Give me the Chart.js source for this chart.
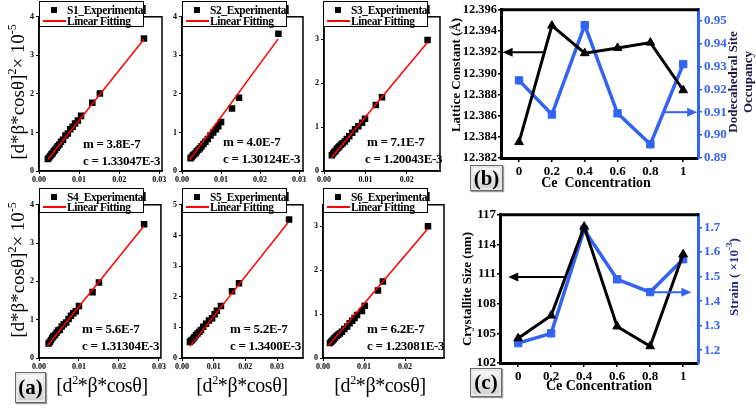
<!DOCTYPE html>
<html><head><meta charset="utf-8">
<script src="https://cdn.jsdelivr.net/npm/chart.js@4/dist/chart.umd.min.js"></script>
<style>
html,body{margin:0;padding:0;background:#fff;}
body{width:756px;height:408px;position:relative;overflow:hidden;font-family:"Liberation Serif",serif;}
canvas{position:absolute;}
.t{position:absolute;white-space:nowrap;color:#000;}
.rot{transform:translate(-50%,-50%) rotate(-90deg);}
.leg{position:absolute;background:#fff;border:1.5px solid #000;box-sizing:border-box;font-weight:bold;font-size:11.5px;letter-spacing:-0.4px;z-index:5;}
.leg .r{position:absolute;left:27px;line-height:12px;}
.leg .sq{position:absolute;width:6px;height:6px;background:#000;left:11px;}
.leg .ln{position:absolute;height:1.5px;background:#f00;left:3px;width:23px;}
.ann{position:absolute;font-weight:bold;font-size:13px;letter-spacing:-0.3px;white-space:nowrap;z-index:4;}
.lab{position:absolute;box-sizing:border-box;border:1px solid #6a6a6a;background:linear-gradient(#fbfbfb,#cfcfcf);box-shadow:inset 0 0 0 2px #e6e6e6,1px 1px 1px #999;font-weight:bold;font-size:21px;text-align:center;z-index:6;}
</style></head><body>
<canvas id="s1"></canvas><canvas id="s2"></canvas><canvas id="s3"></canvas>
<canvas id="s4"></canvas><canvas id="s5"></canvas><canvas id="s6"></canvas>
<canvas id="cb"></canvas><canvas id="cc"></canvas>

<div class="leg" style="left:39px;top:1px;width:105px;height:26px"><span class="sq" style="top:5px"></span><span class="r" style="top:2px">S1_Experimental</span><span class="ln" style="top:18px"></span><span class="r" style="top:13px">Linear Fitting</span></div>
<div class="leg" style="left:182px;top:1px;width:105px;height:26px"><span class="sq" style="top:5px"></span><span class="r" style="top:2px">S2_Experimental</span><span class="ln" style="top:18px"></span><span class="r" style="top:13px">Linear Fitting</span></div>
<div class="leg" style="left:323px;top:1px;width:105px;height:26px"><span class="sq" style="top:5px"></span><span class="r" style="top:2px">S3_Experimental</span><span class="ln" style="top:18px"></span><span class="r" style="top:13px">Linear Fitting</span></div>
<div class="leg" style="left:39px;top:188px;width:105px;height:25px"><span class="sq" style="top:5px"></span><span class="r" style="top:2px">S4_Experimental</span><span class="ln" style="top:17px"></span><span class="r" style="top:12px">Linear Fitting</span></div>
<div class="leg" style="left:182px;top:188px;width:105px;height:25px"><span class="sq" style="top:5px"></span><span class="r" style="top:2px">S5_Experimental</span><span class="ln" style="top:17px"></span><span class="r" style="top:12px">Linear Fitting</span></div>
<div class="leg" style="left:323px;top:188px;width:105px;height:25px"><span class="sq" style="top:5px"></span><span class="r" style="top:2px">S6_Experimental</span><span class="ln" style="top:17px"></span><span class="r" style="top:12px">Linear Fitting</span></div>

<div class="ann" style="left:83px;top:136px">m = 3.8E-7</div>
<div class="ann" style="left:83px;top:153px">c = 1.33047E-3</div>
<div class="ann" style="left:223px;top:134px">m = 4.0E-7</div>
<div class="ann" style="left:223px;top:151px">c = 1.30124E-3</div>
<div class="ann" style="left:367px;top:134px">m = 7.1E-7</div>
<div class="ann" style="left:365px;top:151px">c = 1.20043E-3</div>
<div class="ann" style="left:82px;top:321px">m = 5.6E-7</div>
<div class="ann" style="left:82px;top:338px">c = 1.31304E-3</div>
<div class="ann" style="left:230px;top:321px">m = 5.2E-7</div>
<div class="ann" style="left:230px;top:338px">c = 1.3400E-3</div>
<div class="ann" style="left:367px;top:321px">m = 6.2E-7</div>
<div class="ann" style="left:367px;top:338px">c = 1.23081E-3</div>

<div class="t rot" style="left:17px;top:92px;font-size:19px">[d*β*cosθ]<sup style="font-size:12px">2</sup>× 10<sup style="font-size:12px">-5</sup></div>
<div class="t rot" style="left:17px;top:270px;font-size:19px">[d*β*cosθ]<sup style="font-size:12px">2</sup>× 10<sup style="font-size:12px">-5</sup></div>
<div class="t" style="left:102px;top:385px;transform:translate(-50%,-50%);font-size:20px;letter-spacing:-0.4px">[d<sup style="font-size:12px">2</sup>*β*cosθ]</div>
<div class="t" style="left:242px;top:385px;transform:translate(-50%,-50%);font-size:20px;letter-spacing:-0.4px">[d<sup style="font-size:12px">2</sup>*β*cosθ]</div>
<div class="t" style="left:380px;top:385px;transform:translate(-50%,-50%);font-size:20px;letter-spacing:-0.4px">[d<sup style="font-size:12px">2</sup>*β*cosθ]</div>

<div class="t rot" style="left:456px;top:75px;font-size:13px;font-weight:bold">Lattice Constant (Å)</div>
<div class="t rot" style="left:740px;top:82px;font-size:13px;font-weight:bold;line-height:15px;text-align:center;color:#1b1b45">Dodecahedral Site<br>Occupancy</div>
<div class="t" style="left:596px;top:183px;transform:translate(-50%,-50%);font-size:14px;font-weight:bold">Ce&nbsp; Concentration</div>

<div class="t rot" style="left:467px;top:289px;font-size:13px;font-weight:bold">Crystallite Size (nm)</div>
<div class="t rot" style="left:733px;top:277px;font-size:13px;font-weight:bold;color:#1f2a80">Strain ( ×10<sup style="font-size:9px">-3</sup>)</div>
<div class="t" style="left:599px;top:386px;transform:translate(-50%,-50%);font-size:14px;font-weight:bold">Ce Concentration</div>

<div class="lab" style="left:15px;top:372px;width:31px;height:31px;line-height:29px">(a)</div>
<div class="lab" style="left:470px;top:165px;width:33px;height:26px;line-height:24px">(b)</div>
<div class="lab" style="left:470px;top:368px;width:32px;height:29px;line-height:27px">(c)</div>

<script>
// ---------- Panel (a): Williamson-Hall data ----------
const S1_X = [0.0022,0.0025,0.0028,0.0031,0.0034,0.0037,0.0040,0.0044,0.0047,0.0051,0.0055,0.0060,0.0066,0.0072,0.0078,0.0084,0.0090,0.0097,0.0105,0.0133,0.0152,0.0262];
const S1_Y = [0.31,0.35,0.39,0.43,0.46,0.51,0.55,0.60,0.64,0.69,0.76,0.81,0.92,0.97,1.08,1.15,1.23,1.31,1.43,1.77,2.01,3.44];
const S1_FIT_X = [0.0022,0.0262];
const S1_FIT_Y = [0.30,3.42];

const S2_X = [0.0022,0.0025,0.0028,0.0031,0.0035,0.0038,0.0042,0.0046,0.0050,0.0055,0.0060,0.0066,0.0073,0.0080,0.0087,0.0093,0.0100,0.0128,0.0146,0.0247];
const S2_Y = [0.33,0.36,0.40,0.43,0.47,0.51,0.55,0.59,0.64,0.70,0.76,0.83,0.92,1.00,1.08,1.16,1.27,1.62,1.90,3.56];
const S2_FIT_X = [0.0020,0.0246];
const S2_FIT_Y = [0.30,3.42];

const S3_X = [0.0019,0.0022,0.0025,0.0028,0.0031,0.0034,0.0037,0.0041,0.0045,0.0050,0.0055,0.0061,0.0068,0.0075,0.0083,0.0092,0.0099,0.0125,0.0140,0.0250];
const S3_Y = [0.36,0.40,0.43,0.46,0.50,0.53,0.56,0.60,0.63,0.67,0.73,0.79,0.87,0.95,1.02,1.10,1.19,1.50,1.68,2.98];
const S3_FIT_X = [0.0018,0.0250];
const S3_FIT_Y = [0.30,2.93];

const S4_X = [0.0024,0.0027,0.0030,0.0033,0.0036,0.0040,0.0044,0.0048,0.0052,0.0057,0.0062,0.0068,0.0074,0.0080,0.0086,0.0092,0.0100,0.0134,0.0150,0.0263];
const S4_Y = [0.38,0.42,0.47,0.52,0.57,0.60,0.66,0.72,0.74,0.82,0.88,0.93,1.02,1.10,1.17,1.22,1.36,1.72,1.97,3.49];
const S4_FIT_X = [0.0021,0.0262];
const S4_FIT_Y = [0.32,3.44];

const S5_X = [0.0025,0.0028,0.0031,0.0035,0.0039,0.0044,0.0049,0.0055,0.0060,0.0067,0.0076,0.0085,0.0095,0.0103,0.0110,0.0123,0.0158,0.0180,0.0338];
const S5_Y = [0.52,0.56,0.58,0.63,0.68,0.74,0.80,0.86,0.91,1.02,1.12,1.22,1.30,1.43,1.54,1.70,2.18,2.44,4.52];
const S5_FIT_X = [0.0025,0.0335];
const S5_FIT_Y = [0.38,4.42];

const S6_X = [0.0017,0.0020,0.0023,0.0026,0.0029,0.0033,0.0037,0.0041,0.0046,0.0052,0.0059,0.0065,0.0071,0.0077,0.0083,0.0095,0.0102,0.0134,0.0146,0.0256];
const S6_Y = [0.34,0.37,0.40,0.43,0.46,0.50,0.53,0.56,0.60,0.66,0.72,0.79,0.85,0.91,0.98,1.07,1.19,1.54,1.74,3.00];
const S6_FIT_X = [0.0013,0.0256];
const S6_FIT_Y = [0.28,2.95];

const XTICKS_4 = [0,0.01,0.02,0.03];
const XTICKS_3 = [0,0.01,0.02];
const YTICKS_0_4 = [0,1,2,3,4];
const YTICKS_0_3 = [0,1,2,3];
const YTICKS_0_5 = [0,1,2,3,4,5];

// ---------- Panels (b), (c) ----------
const CE = [0,0.2,0.4,0.6,0.8,1];
const LATTICE = [12.3835,12.3945,12.3919,12.3924,12.3929,12.3884];
const OCCUPANCY = [0.9239,0.9090,0.9480,0.9095,0.8960,0.9310];
const CRYSTALLITE = [104.5,106.8,115.8,105.7,103.7,113.0];
const STRAIN = [1.229,1.269,1.691,1.489,1.437,1.571];
const B_LEFT_TICKS = [12.382,12.384,12.386,12.388,12.390,12.392,12.394,12.396];
const B_RIGHT_TICKS = [0.89,0.90,0.91,0.92,0.93,0.94,0.95];
const C_LEFT_TICKS = [102,105,108,111,114,117];
const C_RIGHT_TICKS = [1.2,1.3,1.4,1.5,1.6,1.7];
// arrows: [axisId, value, fromX, toX]
const B_ARROWS = [['y',12.392,0.146,-0.10],['y2',0.910,0.878,1.085]];
const C_ARROWS = [['y',110.7,0.287,-0.06],['y2',1.436,0.805,1.05]];

const FONT = "'Liberation Serif', serif";
const BLUE = '#3363f2';
Chart.defaults.font.family = FONT;
Chart.defaults.animation = false;

function pts(xs, ys){ return xs.map((x,i)=>({x:x, y:ys[i]})); }
function setTicks(arr){ return s => { s.ticks = arr.map(v=>({value:v})); }; }

const framePlugin = {
  id:'frame',
  afterDraw(chart, args, opts){
    if(!opts || !opts.on) return;
    const a = chart.chartArea, c = chart.ctx;
    c.save();
    c.strokeStyle = '#000'; c.lineWidth = opts.width || 1.5;
    if(opts.full){ c.strokeRect(a.left, a.top, a.right-a.left, a.bottom-a.top); }
    else { c.beginPath(); c.moveTo(a.left-1, a.top); c.lineTo(a.right+1, a.top); c.stroke(); }
    c.restore();
  }
};
const arrowPlugin = {
  id:'arrows',
  afterDraw(chart, args, opts){
    if(!opts || !opts.list) return;
    const c = chart.ctx, xs = chart.scales.x;
    opts.list.forEach(a=>{
      const ys = chart.scales[a[0]];
      const y = ys.getPixelForValue(a[1]);
      const x0 = xs.getPixelForValue(a[2]), x1 = xs.getPixelForValue(a[3]);
      const col = a[0]==='y' ? '#000' : BLUE;
      const dir = Math.sign(x1-x0);
      c.save(); c.strokeStyle = col; c.fillStyle = col; c.lineWidth = 2;
      c.beginPath(); c.moveTo(x0,y); c.lineTo(x1-dir*8,y); c.stroke();
      c.beginPath(); c.moveTo(x1,y); c.lineTo(x1-dir*10,y-4.5); c.lineTo(x1-dir*10,y+4.5); c.closePath(); c.fill();
      c.restore();
    });
  }
};
Chart.register(framePlugin, arrowPlugin);

function mini(id, plot, xs, ys, fx, fy, xMax, yMax, xTicks, yTicks){
  const L=22, T=4, R=6, B=16;
  const cv = document.getElementById(id);
  cv.width = plot[2]-plot[0]+L+R; cv.height = plot[3]-plot[1]+T+B;
  cv.style.left = (plot[0]-L)+'px'; cv.style.top = (plot[1]-T)+'px';
  const tickFont = {family:FONT, size:8, weight:'bold'};
  new Chart(cv, {
    type:'scatter',
    data:{datasets:[
      {data:pts(fx,fy), showLine:true, borderColor:'#ff0000', borderWidth:1.5, pointRadius:0},
      {data:pts(xs,ys), pointStyle:'rect', pointRadius:4.6, backgroundColor:'#000', borderColor:'#000', borderWidth:0}
    ]},
    options:{
      responsive:false, devicePixelRatio:1, animation:false,
      layout:{padding:{left:0,top:T,right:R,bottom:0}, autoPadding:false},
      plugins:{legend:{display:false}, tooltip:{enabled:false}, frame:{on:true, full:true, width:1.5}},
      scales:{
        x:{type:'linear', min:0, max:xMax, afterBuildTicks:setTicks(xTicks), afterFit:s=>{s.height=B;},
           ticks:{callback:v=>Number(v).toFixed(2), font:tickFont, color:'#000', padding:1, maxRotation:0, autoSkip:false},
           grid:{drawOnChartArea:false, tickLength:3, color:'#000'}, border:{color:'#000', width:1.5}},
        y:{type:'linear', min:0, max:yMax, afterBuildTicks:setTicks(yTicks), afterFit:s=>{s.width=L;},
           ticks:{callback:v=>String(v), font:tickFont, color:'#000', padding:2},
           grid:{drawOnChartArea:false, tickLength:3, color:'#000'}, border:{color:'#000', width:1.5}}
      }
    }
  });
}

mini('s1',[39,14,162,171],S1_X,S1_Y,S1_FIT_X,S1_FIT_Y,0.0307,4.0,XTICKS_4,YTICKS_0_4);
mini('s2',[182,14,303,171],S2_X,S2_Y,S2_FIT_X,S2_FIT_Y,0.0310,4.0,XTICKS_4,YTICKS_0_4);
mini('s3',[324,14,440,171],S3_X,S3_Y,S3_FIT_X,S3_FIT_Y,0.0280,3.51,XTICKS_3,YTICKS_0_3);
mini('s4',[39,202,161,358],S4_X,S4_Y,S4_FIT_X,S4_FIT_Y,0.0305,4.0,XTICKS_4,YTICKS_0_4);
mini('s5',[182,202,303,358],S5_X,S5_Y,S5_FIT_X,S5_FIT_Y,0.0382,5.0,XTICKS_4,YTICKS_0_5);
mini('s6',[323,202,444,358],S6_X,S6_Y,S6_FIT_X,S6_FIT_Y,0.0295,3.49,XTICKS_3,YTICKS_0_3);

function dual(id, rect, plot, leftData, rightData, lMin, lMax, rMin, rMax, lTicks, rTicks, lFmt, rFmt, arrows, lSize){
  const cv = document.getElementById(id);
  cv.width = rect[2]; cv.height = rect[3];
  cv.style.left = rect[0]+'px'; cv.style.top = rect[1]+'px';
  const Lw = plot[0]-rect[0], Rw = rect[0]+rect[2]-plot[2], T = plot[1]-rect[1], Bh = rect[1]+rect[3]-plot[3];
  const tf = {family:FONT, size:13, weight:'bold'};
  const lf = {family:FONT, size:lSize, weight:'bold'};
  new Chart(cv, {
    type:'scatter',
    data:{datasets:[
      {data:pts(CE,leftData), yAxisID:'y', showLine:true, borderColor:'#000', borderWidth:3, pointStyle:'triangle', pointRadius:5, backgroundColor:'#000', pointBorderColor:'#000', pointBorderWidth:1},
      {data:pts(CE,rightData), yAxisID:'y2', showLine:true, borderColor:BLUE, borderWidth:3.5, pointStyle:'rect', pointRadius:5.2, backgroundColor:BLUE, pointBorderColor:BLUE, pointBorderWidth:1}
    ]},
    options:{
      responsive:false, devicePixelRatio:1, animation:false,
      layout:{padding:{left:0,top:T,right:0,bottom:0}, autoPadding:false},
      plugins:{legend:{display:false}, tooltip:{enabled:false}, frame:{on:true, full:false, width:3}, arrows:{list:arrows}},
      scales:{
        x:{type:'linear', min:-0.11, max:1.09, afterBuildTicks:setTicks(CE), afterFit:s=>{s.height=Bh;},
           ticks:{callback:v=>(v===0||v===1)?String(v):Number(v).toFixed(1), font:tf, color:'#000', padding:2, maxRotation:0, autoSkip:false},
           grid:{drawOnChartArea:false, tickLength:4, color:'#000', lineWidth:1.5}, border:{color:'#000', width:3}},
        y:{type:'linear', position:'left', min:lMin, max:lMax, afterBuildTicks:setTicks(lTicks), afterFit:s=>{s.width=Lw;},
           ticks:{callback:lFmt, font:lf, color:'#000', padding:1, autoSkip:false},
           grid:{drawOnChartArea:false, tickLength:3, color:'#000', lineWidth:1.5}, border:{color:'#000', width:3}},
        y2:{type:'linear', position:'right', min:rMin, max:rMax, afterBuildTicks:setTicks(rTicks), afterFit:s=>{s.width=Rw;},
           ticks:{callback:rFmt, font:tf, color:BLUE, padding:2, autoSkip:false},
           grid:{drawOnChartArea:false, tickLength:4, color:BLUE, lineWidth:1.5}, border:{color:BLUE, width:3}}
      }
    }
  });
}

dual('cb',[460,0,272,196],[501,7,698,158],LATTICE,OCCUPANCY,12.382,12.396,0.89,0.9547,B_LEFT_TICKS,B_RIGHT_TICKS,
     v=>Number(v).toFixed(3), v=>Number(v).toFixed(2), B_ARROWS, 12.5);
dual('cc',[460,205,276,195],[500,212,698,363],CRYSTALLITE,STRAIN,102,117,1.148,1.752,C_LEFT_TICKS,C_RIGHT_TICKS,
     v=>String(v), v=>Number(v).toFixed(1), C_ARROWS, 13);
</script>
</body></html>
